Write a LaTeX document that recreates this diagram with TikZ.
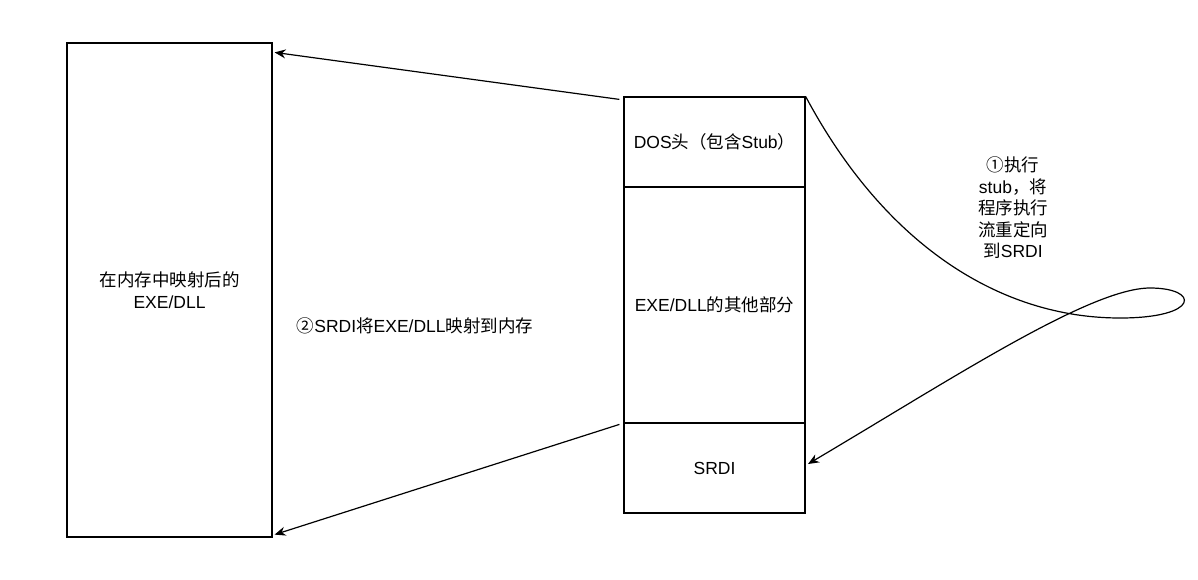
\documentclass[tikz,border=0pt]{standalone}
\usepackage{fontspec}
\setmainfont{Liberation Sans}
\newfontfamily\cjk{Noto Sans CJK SC}
\newcommand{\zh}[1]{{\cjk #1}}
\usetikzlibrary{calc,arrows.meta}
\tikzset{>={Stealth[length=11pt,width=9pt]}}
\tikzset{part/.style={draw, line width=1.2pt, minimum width=181, inner sep=0pt},
  lbl/.style={font=\fontsize{17.5}{21.5}\selectfont, align=center}}

\begin{document}
\begin{tikzpicture}[x=1pt, y=-1pt, line width=1.2pt]
\useasboundingbox (0,0) rectangle (1198,579);
% mapped image
\node[draw, line width=1.2pt, minimum width=205, minimum height=494, lbl] (mem) at (169.5,290) {\zh{在内存中映射后的}\\EXE/DLL};
% file on disk
\node[part, minimum height=90, lbl] (dos) at (714.5,142) {DOS\zh{头（包含}Stub\zh{）}};
\node[part, minimum height=236, lbl] (rest) at (714.5,305) {EXE/DLL\zh{的其他部分}};
\node[part, minimum height=90, lbl] (srdi) at (714.5,468) {SRDI};
\coordinate (srdiin) at (808,464);
\node[lbl] (step1) at (1013,208) {\zh{①执行}\\stub\zh{，将}\\\zh{程序执行}\\\zh{流重定向}\\\zh{到}SRDI};
\node[lbl] (step2) at (415,326) {\zh{②}SRDI\zh{将}EXE/DLL\zh{映射到内存}};
\draw[->] ($(dos.north west)+(-4,3)$) -- ($(mem.north east)+(2,10)$);
\draw[->] ($(srdi.north west)+(-4,2)$) -- ($(mem.south east)+(2,-3)$);
\draw[->] (dos.north east) .. controls (885,245) and (1000,318) .. (1120,318)
  .. controls (1200,318) and (1200,288) .. (1150,288)
  .. controls (1090,288) and (950,380) .. (srdiin);
\end{tikzpicture}
\end{document}
